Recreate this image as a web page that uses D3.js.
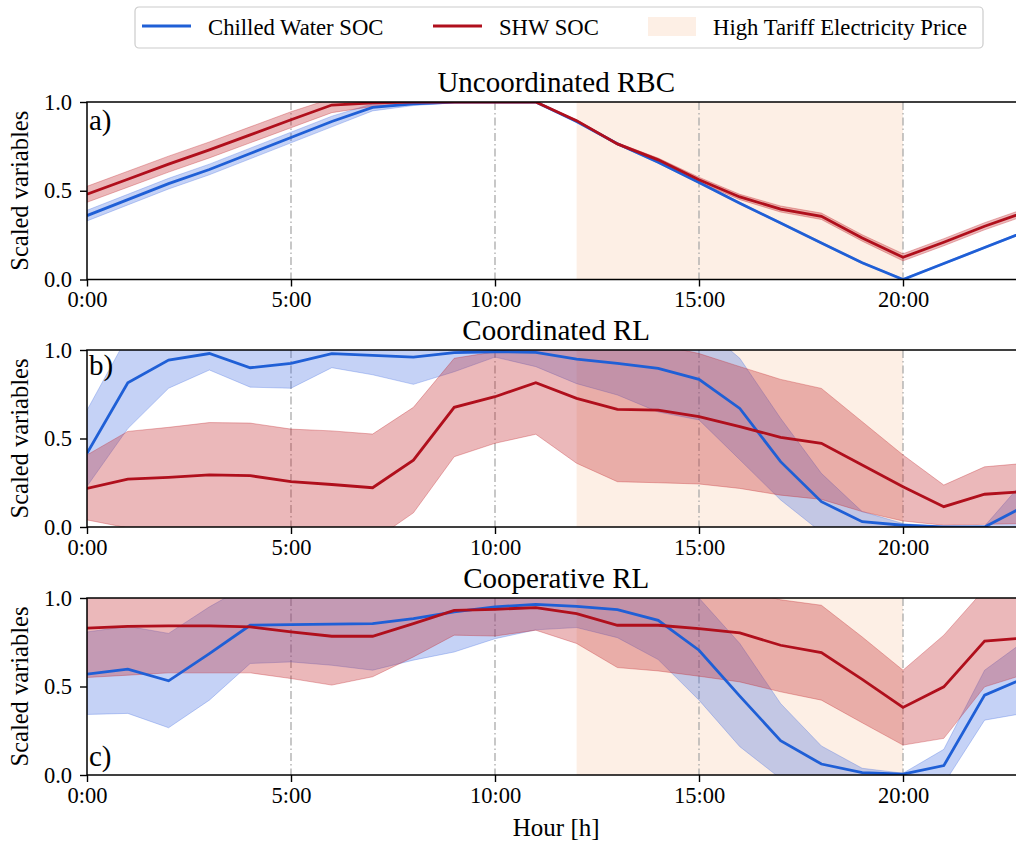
<!DOCTYPE html>
<html>
<head>
<meta charset="utf-8">
<script src="https://cdn.jsdelivr.net/npm/d3@7.9.0/dist/d3.min.js"></script>
<style>
  body { margin: 0; background: #fff; }
  svg { display: block; }
  svg text { font-family: "Liberation Serif", "DejaVu Serif", "Times New Roman", Times, serif; }
</style>
</head>
<body>
<div id="chart"></div>
<script>
// hours of the day (x categories)
const hours = [0, 1, 2, 3, 4, 5, 6, 7, 8, 9, 10, 11, 12, 13, 14, 15, 16, 17, 18, 19, 20, 21, 22, 23];
const xTicks = [0, 5, 10, 15, 20];
const xTickLabels = ["0:00", "5:00", "10:00", "15:00", "20:00"];
const yTicks = [0, 0.5, 1.0];
const tariffWindow = [12, 20];
const panelTitles = ["Uncoordinated RBC", "Coordinated RL", "Cooperative RL"];
const panelLetters = ["a)", "b)", "c)"];
const seriesNames = ["Chilled Water SOC", "SHW SOC", "High Tariff Electricity Price"];

// a) Uncoordinated RBC
const aBlueMean = [0.36, 0.45, 0.54, 0.62, 0.71, 0.80, 0.89, 0.97, 0.99, 1.0, 1.0, 1.0, 0.89, 0.765, 0.66, 0.547, 0.43, 0.318, 0.206, 0.094, 0.0, 0.09, 0.18, 0.27];
const aBlueLo   = [0.33, 0.42, 0.51, 0.59, 0.68, 0.77, 0.86, 0.95, 0.98, 0.995, 1.0, 1.0, 0.885, 0.76, 0.655, 0.542, 0.425, 0.313, 0.201, 0.089, 0.0, 0.085, 0.175, 0.265];
const aBlueHi   = [0.39, 0.48, 0.57, 0.65, 0.74, 0.83, 0.92, 0.99, 1.0, 1.0, 1.0, 1.0, 0.895, 0.77, 0.665, 0.552, 0.435, 0.323, 0.211, 0.099, 0.005, 0.095, 0.185, 0.275];
const aRedMean  = [0.48, 0.565, 0.65, 0.73, 0.815, 0.90, 0.983, 0.995, 1.0, 1.0, 1.0, 1.0, 0.895, 0.764, 0.674, 0.562, 0.465, 0.397, 0.356, 0.234, 0.125, 0.21, 0.30, 0.38];
const aRedLo    = [0.435, 0.52, 0.605, 0.685, 0.77, 0.855, 0.94, 0.975, 0.99, 1.0, 1.0, 1.0, 0.89, 0.758, 0.664, 0.548, 0.45, 0.38, 0.338, 0.216, 0.105, 0.19, 0.28, 0.36];
const aRedHi    = [0.525, 0.61, 0.695, 0.775, 0.86, 0.945, 1.02, 1.01, 1.0, 1.0, 1.0, 1.0, 0.9, 0.77, 0.684, 0.576, 0.48, 0.414, 0.374, 0.252, 0.145, 0.23, 0.32, 0.40];

// b) Coordinated RL
const bBlueMean = [0.416, 0.815, 0.943, 0.98, 0.90, 0.925, 0.98, 0.97, 0.96, 0.985, 0.99, 0.987, 0.949, 0.925, 0.896, 0.834, 0.67, 0.369, 0.143, 0.03, 0.01, 0.0, 0.0, 0.12];
const bBlueLo   = [0.23, 0.556, 0.784, 0.887, 0.79, 0.784, 0.90, 0.86, 0.806, 0.877, 0.96, 0.906, 0.81, 0.746, 0.65, 0.605, 0.38, 0.153, -0.03, -0.05, -0.05, -0.05, -0.05, -0.02];
const bBlueHi   = [0.66, 1.08, 1.1, 1.07, 1.01, 1.07, 1.06, 1.08, 1.11, 1.09, 1.02, 1.07, 1.09, 1.1, 1.14, 1.15, 0.953, 0.614, 0.303, 0.087, 0.02, 0.0, 0.005, 0.27];
const bRedMean  = [0.218, 0.27, 0.28, 0.294, 0.29, 0.256, 0.24, 0.222, 0.378, 0.676, 0.736, 0.815, 0.727, 0.665, 0.66, 0.623, 0.567, 0.507, 0.473, 0.35, 0.228, 0.115, 0.185, 0.2];
const bRedLo    = [0.04, -0.005, -0.03, -0.04, -0.05, -0.06, -0.07, -0.08, 0.08, 0.397, 0.473, 0.524, 0.36, 0.256, 0.25, 0.243, 0.218, 0.18, 0.156, 0.087, 0.034, 0.01, 0.015, 0.02];
const bRedHi    = [0.407, 0.54, 0.563, 0.59, 0.587, 0.553, 0.543, 0.525, 0.676, 0.953, 0.99, 1.03, 1.04, 1.04, 1.03, 0.98, 0.906, 0.834, 0.783, 0.595, 0.407, 0.237, 0.34, 0.36];

// c) Cooperative RL
const cBlueMean = [0.57, 0.598, 0.532, 0.686, 0.846, 0.85, 0.852, 0.855, 0.884, 0.921, 0.95, 0.964, 0.953, 0.934, 0.874, 0.705, 0.446, 0.194, 0.062, 0.013, 0.005, 0.053, 0.451, 0.55];
const cBlueLo   = [0.342, 0.348, 0.267, 0.423, 0.63, 0.639, 0.62, 0.592, 0.649, 0.695, 0.77, 0.82, 0.833, 0.776, 0.652, 0.423, 0.16, -0.02, -0.05, -0.05, 0.0, -0.05, 0.31, 0.35];
const cBlueHi   = [0.808, 0.84, 0.80, 0.95, 1.08, 1.08, 1.1, 1.1, 1.1, 1.1, 1.1, 1.1, 1.1, 1.1, 1.1, 1.0, 0.743, 0.404, 0.164, 0.038, 0.01, 0.145, 0.592, 0.76];
const cRedMean  = [0.83, 0.84, 0.843, 0.842, 0.837, 0.808, 0.784, 0.784, 0.855, 0.93, 0.936, 0.946, 0.912, 0.846, 0.846, 0.827, 0.803, 0.733, 0.692, 0.54, 0.382, 0.498, 0.756, 0.775];
const cRedLo    = [0.551, 0.564, 0.577, 0.577, 0.577, 0.545, 0.508, 0.555, 0.667, 0.79, 0.785, 0.818, 0.743, 0.607, 0.588, 0.558, 0.526, 0.47, 0.423, 0.295, 0.169, 0.207, 0.498, 0.57];
const cRedHi    = [1.1, 1.12, 1.1, 1.12, 1.1, 1.1, 1.08, 1.05, 1.06, 1.07, 1.09, 1.08, 1.08, 1.1, 1.1, 1.12, 1.05, 0.99, 0.959, 0.78, 0.592, 0.79, 1.05, 1.2];

const panelsData = [
    { blue: [aBlueMean, aBlueLo, aBlueHi], red: [aRedMean, aRedLo, aRedHi] },
    { blue: [bBlueMean, bBlueLo, bBlueHi], red: [bRedMean, bRedLo, bRedHi] },
    { blue: [cBlueMean, cBlueLo, cBlueHi], red: [cRedMean, cRedLo, cRedHi] }
];

const width = 1016, height = 845;
const serif = "'Liberation Serif', 'DejaVu Serif', 'Times New Roman', Times, serif";
const blue = "#1f5fd6", red = "#b00f1c";
const blueFill = "#3f6be0", redFill = "#c3282e";
const shadeColor = "#fdefe5";

const svg = d3.select("#chart").append("svg")
    .attr("width", width)
    .attr("height", height)
    .attr("font-family", serif);

// plot area geometry (x axis runs past the right border, as in the cropped figure)
const left = 87, right = 87 + 40.8 * 23;
const panelBoxes = [
    { top: 102, bottom: 279.5 },
    { top: 350, bottom: 527 },
    { top: 598, bottom: 775 }
];

const xScale = d3.scaleLinear().domain([0, 23]).range([left, right]);

panelBoxes.forEach((box, i) => {
    const yScale = d3.scaleLinear().domain([0, 1]).range([box.bottom, box.top]);
    const g = svg.append("g");
    const clipId = `clip${i}`;
    g.append("clipPath").attr("id", clipId)
        .append("rect")
        .attr("x", left).attr("y", box.top)
        .attr("width", right - left).attr("height", box.bottom - box.top);

    const plot = g.append("g").attr("clip-path", `url(#${clipId})`);

    // high tariff window
    plot.append("rect")
        .attr("x", xScale(tariffWindow[0]))
        .attr("y", box.top)
        .attr("width", xScale(tariffWindow[1]) - xScale(tariffWindow[0]))
        .attr("height", box.bottom - box.top)
        .attr("fill", shadeColor);

    // dash-dot vertical guides
    plot.selectAll("line.vgrid")
        .data(xTicks.slice(1))
        .join("line")
        .attr("class", "vgrid")
        .attr("x1", d => xScale(d)).attr("x2", d => xScale(d))
        .attr("y1", box.top).attr("y2", box.bottom)
        .attr("stroke", "#aaaaaa")
        .attr("stroke-width", 1.3)
        .attr("stroke-dasharray", "8,3,1.5,3");

    const area = (lo, hi) => d3.area()
        .x((d, k) => xScale(hours[k]))
        .y0((d, k) => yScale(lo[k]))
        .y1((d, k) => yScale(hi[k]))(hours);
    const line = (vals) => d3.line()
        .x((d, k) => xScale(hours[k]))
        .y((d, k) => yScale(vals[k]))(hours);

    const pd = panelsData[i];
    // bands
    plot.append("path")
        .attr("d", area(pd.blue[1], pd.blue[2]))
        .attr("fill", blueFill).attr("fill-opacity", 0.3)
        .attr("stroke", blueFill).attr("stroke-opacity", 0.3).attr("stroke-width", 1);
    plot.append("path")
        .attr("d", area(pd.red[1], pd.red[2]))
        .attr("fill", redFill).attr("fill-opacity", 0.33)
        .attr("stroke", redFill).attr("stroke-opacity", 0.33).attr("stroke-width", 1);
    // mean lines
    plot.append("path")
        .attr("d", line(pd.blue[0]))
        .attr("fill", "none").attr("stroke", blue).attr("stroke-width", 2.8);
    plot.append("path")
        .attr("d", line(pd.red[0]))
        .attr("fill", "none").attr("stroke", red).attr("stroke-width", 2.8);

    // axes
    const xAxis = d3.axisBottom(xScale)
        .tickValues(xTicks)
        .tickFormat((d, k) => xTickLabels[k])
        .tickSizeOuter(0).tickSize(7).tickPadding(5);
    const yAxis = d3.axisLeft(yScale)
        .tickValues(yTicks)
        .tickFormat(d3.format(".1f"))
        .tickSizeOuter(0).tickSize(7).tickPadding(8);

    const gx = g.append("g")
        .attr("transform", `translate(0, ${box.bottom})`)
        .call(xAxis);
    const gy = g.append("g")
        .attr("transform", `translate(${left}, 0)`)
        .call(yAxis);
    [gx, gy].forEach(a => {
        a.attr("font-family", serif).attr("font-size", 22.5);
        a.select(".domain").remove();
        a.selectAll(".tick line").attr("stroke", "#000").attr("stroke-width", 1.4);
        a.selectAll(".tick text").attr("fill", "#000");
    });

    // frame
    g.append("rect")
        .attr("x", left).attr("y", box.top)
        .attr("width", right - left).attr("height", box.bottom - box.top)
        .attr("fill", "none").attr("stroke", "#000").attr("stroke-width", 1.5);

    // title
    g.append("text")
        .attr("x", (left + right) / 2)
        .attr("y", box.top - 10)
        .attr("text-anchor", "middle")
        .attr("font-size", 29)
        .text(panelTitles[i]);

    // y label
    g.append("text")
        .attr("transform", `translate(28, ${(box.top + box.bottom) / 2}) rotate(-90)`)
        .attr("text-anchor", "middle")
        .attr("font-size", 24.5)
        .text("Scaled variables");

    // panel letter
    g.append("text")
        .attr("x", left + 2)
        .attr("y", i === 2 ? box.bottom - 9 : box.top + (i === 0 ? 28 : 25))
        .attr("font-size", 29)
        .text(panelLetters[i]);
});

// x label
svg.append("text")
    .attr("x", (left + right) / 2)
    .attr("y", 836)
    .attr("text-anchor", "middle")
    .attr("font-size", 25)
    .text("Hour [h]");

// legend
const legend = svg.append("g");
legend.append("rect")
    .attr("x", 135).attr("y", 7)
    .attr("width", 848).attr("height", 41)
    .attr("rx", 4)
    .attr("fill", "#fff")
    .attr("stroke", "#cccccc")
    .attr("stroke-width", 1.2);

const legendItems = [
    { name: seriesNames[0], kind: "line", color: blue, x: 142 },
    { name: seriesNames[1], kind: "line", color: red, x: 433 },
    { name: seriesNames[2], kind: "patch", color: shadeColor, x: 648 }
];
legendItems.forEach(item => {
    if (item.kind === "line") {
        legend.append("line")
            .attr("x1", item.x).attr("x2", item.x + 49)
            .attr("y1", 26).attr("y2", 26)
            .attr("stroke", item.color).attr("stroke-width", 2.8);
    } else {
        legend.append("rect")
            .attr("x", item.x).attr("y", 17)
            .attr("width", 48).attr("height", 19)
            .attr("fill", item.color);
    }
    legend.append("text")
        .attr("x", item.x + (item.kind === "line" ? 66 : 65))
        .attr("y", 35)
        .attr("font-size", 22.7)
        .text(item.name);
});
</script>
</body>
</html>
